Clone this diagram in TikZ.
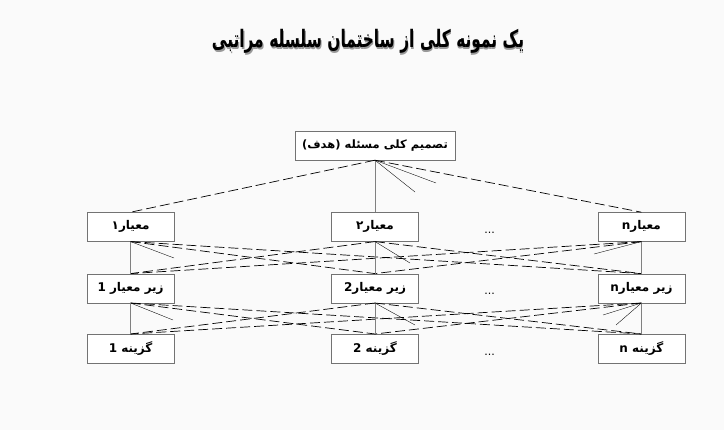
\documentclass[tikz,border=0pt]{standalone}
\usepackage{fontspec}
\usepackage{tikz}
\usetikzlibrary{positioning,calc}
\TeXXeTstate=1
\newfontfamily\arabicfont[Script=Arabic]{DejaVu Sans}
\newcommand{\fa}[1]{\arabicfont\bfseries\beginR #1\endR}
\newcommand{\sombreado}[1]{\ooalign{\kern2pt\raisebox{-2pt}{\color{black!40}#1}\cr #1\cr}}
\tikzstyle{caja}=[rectangle,draw=black!55,fill=white,minimum width=87pt,minimum height=29pt,inner sep=0pt,font=\fontsize{12}{14}\selectfont]
\tikzstyle{meta}=[caja,minimum width=160pt,font=\fontsize{11.5}{13}\selectfont]
\tikzstyle{enlace}=[dash pattern=on 10pt off 4pt,line width=0.7pt]
\tikzstyle{vertical}=[draw=black!50,line width=0.7pt]
\tikzstyle{traza}=[line width=0.35pt]
\tikzstyle{puntos}=[inner sep=0pt,font=\arabicfont\fontsize{11}{12}\selectfont]
\tikzstyle{titular}=[inner sep=0pt,xscale=0.64,transform shape,font=\fontsize{24}{28}\selectfont]

\begin{document}
\begin{tikzpicture}[x=1pt,y=1pt]
	\useasboundingbox (0,0) rectangle (724,-430);
	\fill[black!2] (0,0) rectangle (724,-430);
	% titulo con sombra
	\node[titular]	(titulo)	at (368,-42)	{\sombreado{\fa{یک نمونه کلی از ساختمان سلسله مراتبی}}};
	% niveles
	\node[meta]	(goal)	at (375,-145.5)	{\fa{تصمیم کلی مسئله (هدف)}};
	\node[caja]	(c2)	[below=52pt of goal]	{\fa{معیار۲}};
	\node[caja]	(c1)	[left=157pt of c2]	{\fa{معیار۱}};
	\node[caja]	(cn)	[right=179pt of c2]	{\fa{معیارn}};
	\node[caja]	(s1)	[below=32pt of c1]	{\fa{زیر معیار 1}};
	\node[caja]	(s2)	[below=32pt of c2]	{\fa{زیر معیار2}};
	\node[caja]	(sn)	[below=32pt of cn]	{\fa{زیر معیارn}};
	\node[caja]	(a1)	[below=31pt of s1]	{\fa{گزینه 1}};
	\node[caja]	(a2)	[below=31pt of s2]	{\fa{گزینه 2}};
	\node[caja]	(an)	[below=31pt of sn]	{\fa{گزینه n}};
	\node[puntos]	(d1)	at ($(c2)!0.43!(cn)+(0,-6)$)	{...};
	\node[puntos]	(d2)	at ($(s2)!0.43!(sn)+(0,-6)$)	{...};
	\node[puntos]	(d3)	at ($(a2)!0.43!(an)+(0,-6)$)	{...};
	% enlaces
	\draw[enlace]	(goal.south) -- (c1.north);
	\draw[enlace]	(goal.south) -- (cn.north);
	\draw[vertical]	(goal.south) -- (c2.north);
	\foreach \de/\a in {c1/s2,c1/sn,c2/s1,c2/sn,cn/s1,cn/s2,s1/a2,s1/an,s2/a1,s2/an,sn/a1,sn/a2}
		\draw[enlace]	(\de.south) -- (\a.north);
	\foreach \de/\a in {c1/s1,c2/s2,cn/sn,s1/a1,s2/a2,sn/an}
		\draw[vertical]	(\de.south) -- (\a.north);
	% trazos cortos
	\coordinate	(t1)	at (415,-192);
	\coordinate	(t2)	at (436,-183);
	\coordinate	(t3)	at (174,-258);
	\coordinate	(t4)	at (410,-263);
	\coordinate	(t5)	at (594,-254);
	\coordinate	(t6)	at (173,-320);
	\coordinate	(t7)	at (415,-325);
	\coordinate	(t8)	at (616,-325);
	\coordinate	(t9)	at (603,-315);
	\foreach \de/\a in {goal/t1,goal/t2,c1/t3,c2/t4,cn/t5,s1/t6,s2/t7,sn/t8,sn/t9}
		\draw[traza]	(\de.south) -- (\a);
\end{tikzpicture}
\end{document}
